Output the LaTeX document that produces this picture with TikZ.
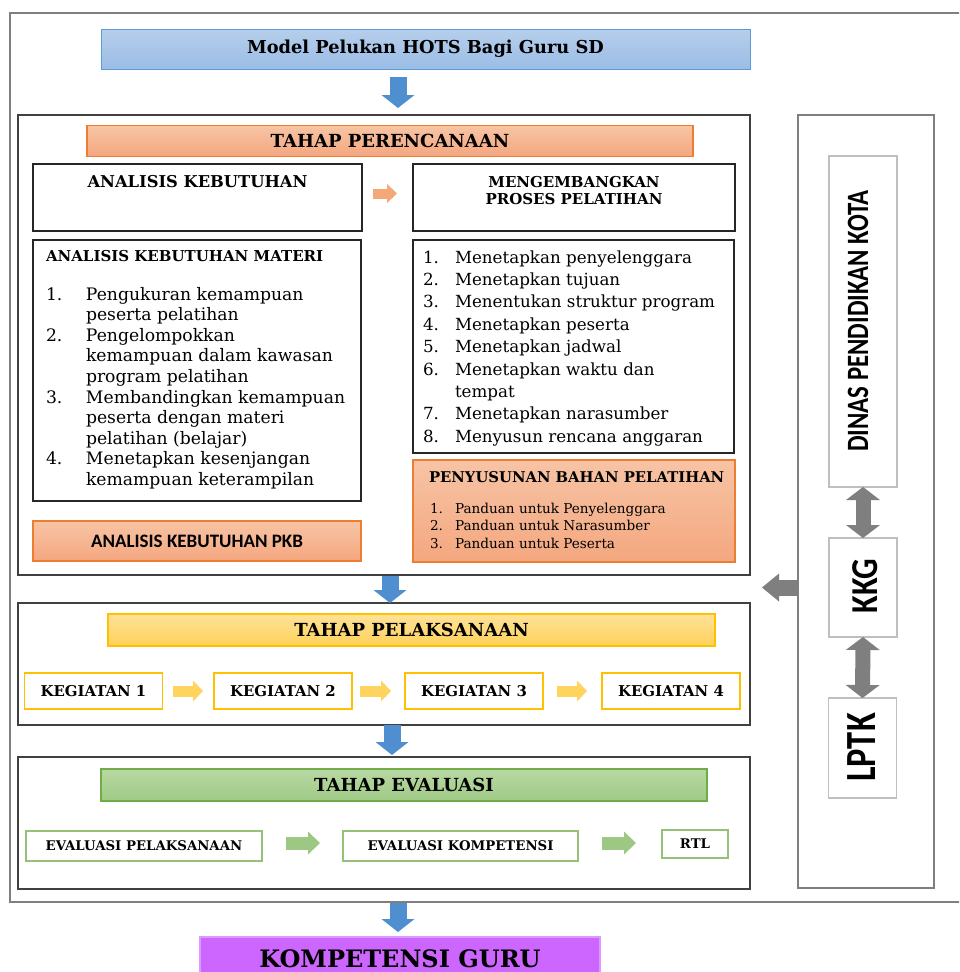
\documentclass[tikz,border=0pt]{standalone}
\usepackage{graphicx}
\usepackage{fontspec}
\setmainfont{DejaVu Serif}
\newfontfamily\calibri{Carlito}
\usetikzlibrary{positioning, arrows.meta, calc}

\definecolor{hotsBlue}{HTML}{5B9BD5}
\definecolor{hotsBlueLight}{HTML}{B6CEEB}
\definecolor{hotsBlueMid}{HTML}{9BBDE6}
\definecolor{planOrange}{HTML}{ED7D31}
\definecolor{planPeach}{HTML}{F7C4A5}
\definecolor{planSalmon}{HTML}{F4A77F}
\definecolor{doGold}{HTML}{FFC000}
\definecolor{doYellow}{HTML}{FFE29A}
\definecolor{doAmber}{HTML}{FFD158}
\definecolor{evalGreen}{HTML}{70AD47}
\definecolor{evalMint}{HTML}{B8D8A4}
\definecolor{evalSage}{HTML}{9FCA85}
\definecolor{frameGray}{HTML}{7F7F7F}
\definecolor{frameDark}{HTML}{404040}
\definecolor{paleGray}{HTML}{BFBFBF}
\definecolor{guruViolet}{HTML}{CC66FF}
\definecolor{guruPink}{HTML}{DD99FF}
\definecolor{arrowBlue}{HTML}{4F8FD0}
\definecolor{arrowOrange}{HTML}{F4A878}
\definecolor{arrowYellow}{HTML}{FFD45E}
\definecolor{arrowGreen}{HTML}{9CC883}
\definecolor{arrowGray}{HTML}{7F7F7F}

\newcommand{\fs}[2]{\fontsize{#1}{#2}\selectfont}

\begin{document}
\begin{tikzpicture}[
  x=1pt, y=-1pt,
  every node/.style={inner sep=0pt, outer sep=0pt},
  frame/.style={draw=frameDark, line width=1.8pt},
  inbox/.style={draw=black!85, line width=1.5pt, fill=white},
  bluebar/.style={draw=hotsBlue, line width=1pt, top color=hotsBlueLight, bottom color=hotsBlueMid},
  orangebar/.style={draw=planOrange, line width=1.1pt, top color=planPeach, bottom color=planSalmon},
  yellowbar/.style={draw=doGold, line width=1.1pt, top color=doYellow, bottom color=doAmber},
  greenbar/.style={draw=evalGreen, line width=1.1pt, top color=evalMint, bottom color=evalSage},
  bartext/.style={font=\bfseries\fs{18}{20}},
  kegbox/.style={draw=doGold, line width=1.6pt, fill=white,
    minimum width=138pt, minimum height=36pt, font=\bfseries\fs{14.9}{16}},
  evbox/.style={draw=evalGreen!75, line width=1.5pt, fill=white,
    minimum height=30pt, font=\bfseries\fs{13.3}{15}},
  mitrabox/.style={draw=paleGray, line width=1.2pt, fill=white, minimum width=68pt},
  vtext/.style={rotate=90, font=\calibri\bfseries\fs{#1}{#1}},
  fatarrow/.style n args={4}{draw=#4, line width=#1,
    -{Triangle[width=#2, length=#3, line width=0pt]}},
  dblarrow/.style={draw=arrowGray, line width=15pt,
    {Triangle[width=34pt, length=13pt, line width=0pt]}-{Triangle[width=34pt, length=13pt, line width=0pt]}},
]
\useasboundingbox (0,0) rectangle (959,972);
\fill[white] (0,0) rectangle (959,972);
\clip (0,0) rectangle (959,972);

% === Outer frame and title ===
\node[draw=frameGray, line width=1.8pt, minimum width=960pt, minimum height=889pt] (bingkai) at (490,457.5) {};
\node[bluebar, minimum width=649pt, minimum height=40pt, font=\bfseries\fs{17.8}{20}] (judul) at (425.5,49) {Model Pelukan HOTS Bagi Guru SD};

% === Tahap perencanaan ===
\node[frame, minimum width=732pt, minimum height=460pt] (rencana) at (384,345) {};
\node[orangebar, bartext, minimum width=606pt, minimum height=31pt] (rencanabar) at (390,141) {TAHAP PERENCANAAN};

\node[inbox, minimum width=329pt, minimum height=67pt] (ak) at (197.5,197.5) {};
\node[anchor=base, font=\bfseries\fs{16.3}{18}] (aktxt) at (197.5,187) {ANALISIS KEBUTUHAN};
\node[inbox, minimum width=322pt, minimum height=67pt] (mp) at (574,197.5) {};
\node[anchor=north, align=center, font=\bfseries\fs{15}{17}] (mptxt) at (574,176) {MENGEMBANGKAN\\PROSES PELATIHAN};

\node[inbox, minimum width=328pt, minimum height=261pt] (akm) at (197,370.5) {};
\node[anchor=base west, font=\bfseries\fs{15}{17}] (akmjudul) at (46,261) {ANALISIS KEBUTUHAN MATERI};
\node[anchor=base west, font=\fs{17.2}{20.6}] (akmisi) at (46,300) {%
  \begin{tabular}[t]{@{}p{40pt}@{}l@{}}
  1. & Pengukuran kemampuan\\
     & peserta pelatihan\\
  2. & Pengelompokkan\\
     & kemampuan dalam kawasan\\
     & program pelatihan\\
  3. & Membandingkan kemampuan\\
     & peserta dengan materi\\
     & pelatihan (belajar)\\
  4. & Menetapkan kesenjangan\\
     & kemampuan keterampilan
  \end{tabular}};
\node[orangebar, minimum width=328pt, minimum height=40pt, font=\calibri\bfseries\fs{19}{21}] (pkb) at (197,541) {ANALISIS KEBUTUHAN PKB};

\node[inbox, minimum width=321pt, minimum height=213pt] (mpl) at (573.5,346.5) {};
\node[anchor=base west, font=\fs{16.7}{22.4}] (mplisi) at (423,263) {%
  \begin{tabular}[t]{@{}p{32pt}@{}l@{}}
  1. & Menetapkan penyelenggara\\
  2. & Menetapkan tujuan\\
  3. & Menentukan struktur program\\
  4. & Menetapkan peserta\\
  5. & Menetapkan jadwal\\
  6. & Menetapkan waktu dan\\
     & tempat\\
  7. & Menetapkan narasumber\\
  8. & Menyusun rencana anggaran
  \end{tabular}};
\node[orangebar, minimum width=322pt, minimum height=102pt] (bahan) at (574,511) {};
\node[anchor=base west, font=\bfseries\fs{14.8}{17}] (bahanjudul) at (429,482) {PENYUSUNAN BAHAN PELATIHAN};
\node[anchor=base west, font=\fs{13.6}{17.5}] (bahanisi) at (430,513) {%
  \begin{tabular}[t]{@{}p{25pt}@{}l@{}}
  1. & Panduan untuk Penyelenggara\\
  2. & Panduan untuk Narasumber\\
  3. & Panduan untuk Peserta
  \end{tabular}};

% === Tahap pelaksanaan ===
\node[frame, minimum width=732pt, minimum height=122pt] (laksana) at (384,664) {};
\node[yellowbar, bartext, minimum width=607pt, minimum height=32pt] (laksanabar) at (411.5,630) {TAHAP PELAKSANAAN};
\foreach \i/\x in {1/93.5, 2/283, 3/474, 4/671}
  \node[kegbox] (keg\i) at (\x,691) {KEGIATAN \i};

% === Tahap evaluasi ===
\node[frame, minimum width=732pt, minimum height=132pt] (evaluasi) at (384,823) {};
\node[greenbar, bartext, minimum width=606pt, minimum height=32pt] (evaluasibar) at (404,785) {TAHAP EVALUASI};
\node[evbox, minimum width=236pt] (evlak) at (144,846) {EVALUASI PELAKSANAAN};
\node[evbox, minimum width=235pt] (evkom) at (460.5,846) {EVALUASI KOMPETENSI};
\node[evbox, minimum width=66pt, minimum height=28pt] (rtl) at (695,844) {RTL};

% === Mitra ===
\node[draw=frameGray, line width=1.8pt, minimum width=136pt, minimum height=773pt] (mitra) at (866,501.5) {};
\node[mitrabox, minimum height=331pt] (dinas) at (863,321.5) {};
\node[vtext=31] (dinastxt) at (858,321) {\scalebox{0.8}[1]{DINAS PENDIDIKAN KOTA}};
\node[mitrabox, minimum height=99pt] (kkg) at (863,587.5) {};
\node[vtext=38] (kkgtxt) at (865,586) {\scalebox{0.85}[1]{KKG}};
\node[mitrabox, minimum height=100pt] (lptk) at (862.5,748) {};
\node[vtext=43] (lptktxt) at (862,747.5) {\scalebox{0.8}[1]{LPTK}};

% === Hasil ===
\node[fill=guruViolet, draw=guruPink, line width=2pt, minimum width=400pt, minimum height=44pt,
  font=\bfseries\fs{24}{26}] (kompetensi) at (400,959) {KOMPETENSI GURU};

% === Block arrows ===
\draw[fatarrow={17pt}{33pt}{13pt}{arrowBlue}, shorten <=8pt, shorten >=7pt]
  ([xshift=-27.5pt]judul.south) -- ([xshift=-27.5pt]judul.south |- rencana.north);
\draw[fatarrow={17pt}{33pt}{13pt}{arrowBlue}, shorten <=1pt]
  ([xshift=6pt]rencana.south) -- ([xshift=6pt]rencana.south |- laksana.north);
\draw[fatarrow={17pt}{33pt}{13pt}{arrowBlue}, shorten >=2pt]
  ([xshift=8pt]laksana.south) -- ([xshift=8pt]laksana.south |- evaluasi.north);
\draw[fatarrow={17pt}{33pt}{13pt}{arrowBlue}, shorten <=1pt, shorten >=5pt]
  ([xshift=-2pt]kompetensi.north |- bingkai.south) -- ([xshift=-2pt]kompetensi.north);

\draw[fatarrow={10pt}{19pt}{10pt}{arrowOrange}, shorten <=11pt, shorten >=16pt]
  ([yshift=4pt]ak.east) -- ([yshift=4pt]mp.west);

\foreach \a/\b/\s/\t in {1/2/10/11, 2/3/8/14, 3/4/14/15}
  \draw[fatarrow={11pt}{21pt}{10pt}{arrowYellow}, shorten <=\s pt, shorten >=\t pt]
    (keg\a.east) -- (keg\b.west);

\draw[fatarrow={13pt}{23pt}{12pt}{arrowGreen}, shorten <=24pt, shorten >=23pt]
  ([yshift=3pt]evlak.east) -- ([yshift=3pt]evkom.west);
\draw[fatarrow={13pt}{23pt}{12pt}{arrowGreen}, shorten <=24pt, shorten >=26pt]
  ([yshift=3pt]evkom.east) -- ([yshift=3pt]evkom.east -| rtl.west);

\draw[fatarrow={16pt}{28pt}{17pt}{arrowGray}, shorten >=12pt]
  (mitra.west |- kkg.center) -- (rencana.east |- kkg.center);
\draw[dblarrow] (dinas.south) -- (kkg.north);
\draw[dblarrow] (kkg.south) -- (lptk.north);

\end{tikzpicture}
\end{document}
